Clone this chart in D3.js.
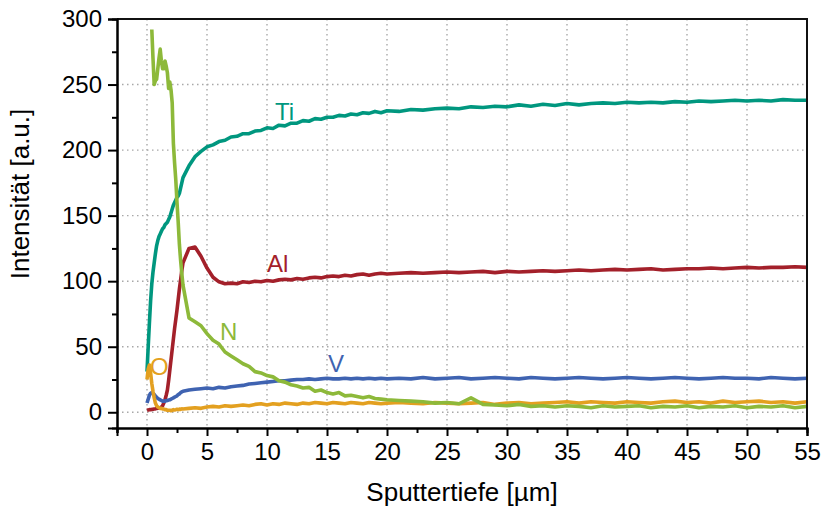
<!DOCTYPE html>
<html>
<head>
<meta charset="utf-8">
<script src="https://cdn.jsdelivr.net/npm/d3@7"></script>
<style>
  body { margin: 0; background: #fff; }
  svg text { font-family: "Liberation Sans", Arial, sans-serif; }
</style>
</head>
<body>
<div id="chart"></div>
<script>
// depth in µm (fine steps at the surface, coarser later)
const depth = [
  0, 0.1, 0.2, 0.3, 0.4, 0.5, 0.6, 0.7, 0.8, 0.9, 1.0, 1.1, 1.2, 1.3, 1.4, 1.5,
  1.6, 1.7, 1.8, 1.9, 2.0, 2.1, 2.2, 2.3, 2.4, 2.5, 2.6, 2.7, 2.8, 2.9, 3.0,
  3.5, 4, 4.5, 5, 5.5, 6, 6.5, 7, 7.5, 8, 8.5, 9, 9.5, 10, 10.5, 11, 11.5, 12,
  12.5, 13, 13.5, 14, 14.5, 15, 15.5, 16, 16.5, 17, 17.5, 18, 18.5, 19, 19.5, 20,
  21, 22, 23, 24, 25, 26, 27, 28, 29, 30, 31, 32, 33, 34, 35, 36, 37, 38,
  39, 40, 41, 42, 43, 44, 45, 46, 47, 48, 49, 50, 51, 52, 53, 54, 55
];

const ti = [
  31, 50, 68, 85, 98, 107, 114, 121, 127, 131, 134, 136, 138, 140, 141, 143,
  144, 145, 147, 149, 152, 155, 158, 160, 162, 164, 165, 167, 171, 175, 179,
  188, 195, 199, 202.5, 204, 206.5, 207.5, 210, 210.5, 212.5, 212.5, 214.5, 215, 217, 216.5, 219, 218.5, 220.5,
  220.5, 222.5, 222, 224, 223.5, 225, 225, 226.5, 226, 227.5, 227, 228.5, 228, 229.5, 228.5, 230,
  229.5, 231, 230.5, 231.5, 232, 231.5, 233, 232.5, 233.5, 233, 234.5, 233.5, 235, 234, 235.5, 234.5, 235.5, 236,
  235.5, 236.5, 236, 236.5, 236, 237, 236.5, 237.5, 237, 237.5, 238, 237.5, 238, 237.5, 238.5, 238, 238
];

const al = [
  1.5, 1.8, 2, 2, 2.2, 2.3, 2.5, 2.6, 2.8, 3, 3.2, 3.6, 4, 5, 7, 9.5,
  13, 17, 24, 32, 40, 48, 56, 64, 71, 78, 86, 94, 101, 108, 114,
  125, 126, 119, 110, 103, 99.5, 98, 98.5, 98, 99.5, 99, 100, 99.5, 100.5, 100, 101, 101.5, 101,
  102, 101.5, 102.5, 103, 102.5, 103.5, 104, 103.5, 104.5, 104, 105, 105.5, 104.5, 105.5, 106, 105.5,
  106, 106.5, 106, 106.5, 107, 106.5, 107, 107.5, 106.5, 107.5, 107, 107.5, 108, 107.5, 108, 108.5, 108, 108.5,
  109, 108.5, 109, 109.5, 108.5, 109, 109.5, 109.5, 110, 109.5, 110, 110.5, 110, 110.5, 110.5, 111, 110.5
];

const vv = [
  7, 10, 13, 14.5, 15, 14.5, 13.5, 12.5, 11.5, 10.5, 10, 9.5, 9, 8.5, 8.5, 8.5,
  8.7, 9, 9.3, 9.5, 10, 10.5, 11, 11.5, 12, 12.5, 13.5, 14, 15, 15.5, 16,
  17, 17.5, 18, 18.5, 18, 19, 18.5, 19.5, 20, 20.5, 21.5, 22, 22.5, 23, 23.5, 24, 24, 24.5,
  25, 25, 25.5, 25, 25.5, 26, 25.5, 25.5, 26, 25.5, 26, 25.5, 26, 25.5, 26, 25.5,
  26, 25.5, 26.5, 25.5, 26, 26.5, 25.5, 26, 26.5, 26, 25.5, 26.5, 26, 25.5, 26, 26.5, 26, 25.5,
  26, 26.5, 26, 25.5, 26, 26.5, 26, 25.5, 26, 26.5, 26, 26, 25.5, 26.5, 26, 25.5, 26
];

const ox = [
  25, 33, 36, 30, 22, 16, 11, 7, 5, 4, 3.5, 3, 3, 2.5, 2.5, 2,
  2, 1.5, 1.5, 1.5, 1.2, 1.5, 2, 1.8, 2, 2.3, 2, 2.4, 2.2, 2.6, 2.5,
  3, 3.5, 3, 4, 4.5, 4, 5, 4.5, 5, 5.5, 5, 6, 6.5, 5.5, 6.5, 6, 7, 6.5,
  6, 7, 6.5, 7.5, 7, 6.5, 7.5, 7, 6.5, 7.5, 7, 6.5, 7.5, 7, 6.5, 7,
  7.5, 7, 6.5, 7.5, 7, 6.5, 7, 7.5, 6, 7, 7.5, 6.5, 7, 7.5, 8, 7, 8, 7.5,
  7, 8, 7.5, 7, 8, 8.5, 7.5, 8, 7, 8.5, 7.5, 8, 8.5, 7.5, 8, 7, 8
];

const ni = [
  null, null, null, null, 292, 270, 250, 253, 254, 262, 270, 277, 268, 262, 262, 268,
  264, 259, 247, 252, 246, 236, 205, 190, 177, 160, 145, 128, 116, 106, 97,
  72, 69, 66, 60, 55, 52, 46, 43, 40, 37, 35, 31, 30, 28, 27, 24, 23, 21,
  20, 18.5, 19, 16, 17, 15, 14, 15, 12.5, 13, 12, 11, 12, 10.5, 10, 9.5,
  9, 8.5, 8, 7, 7.5, 6.5, 11, 6, 5.5, 5, 6, 4.5, 5, 4, 5, 4.5, 3.5, 5,
  4, 4.5, 5, 3.5, 4.5, 4, 5, 3.5, 4.5, 4, 5, 3.5, 4.5, 4, 5, 3.5, 4.5
];

const series = [
  { name: "Ti", values: ti, color: "#00977f", lx: 275, ly: 120 },
  { name: "Al", values: al, color: "#a3202a", lx: 267, ly: 272 },
  { name: "V", values: vv, color: "#3f63b1", lx: 328, ly: 372 },
  { name: "O", values: ox, color: "#e3a020", lx: 150, ly: 375 },
  { name: "N", values: ni, color: "#8db93a", lx: 220, ly: 340 }
];

const xMajor = d3.range(0, 56, 5);
const xMinor = d3.range(-2.5, 55, 5);
const yMajor = d3.range(0, 301, 50);
const yMinor = d3.range(25, 300, 50);

const W = 827, H = 512;
const plot = { left: 117, right: 807, top: 19, bottom: 428 };

const svg = d3.select("#chart").append("svg")
  .attr("width", W)
  .attr("height", H);

const x = d3.scaleLinear().domain([-2.5, 55]).range([plot.left, plot.right]);
const y = d3.scaleLinear().domain([-12, 300]).range([plot.bottom, plot.top]);

// grid lines
const grid = svg.append("g")
  .attr("stroke", "#a8a8a8")
  .attr("stroke-width", 1.4)
  .attr("stroke-dasharray", "1.5,3.5");
grid.selectAll("line.gx")
  .data(xMajor.filter(d => d < 55))
  .enter().append("line")
  .attr("x1", d => x(d)).attr("x2", d => x(d))
  .attr("y1", plot.top).attr("y2", plot.bottom);
grid.selectAll("line.gy")
  .data(yMajor.filter(d => d < 300))
  .enter().append("line")
  .attr("x1", plot.left).attr("x2", plot.right)
  .attr("y1", d => y(d)).attr("y2", d => y(d));

// curves
const line = d3.line()
  .defined(d => d[1] != null)
  .x(d => x(d[0]))
  .y(d => y(d[1]));

series.forEach(s => {
  svg.append("path")
    .datum(depth.map((d, i) => [d, s.values[i]]))
    .attr("fill", "none")
    .attr("stroke", s.color)
    .attr("stroke-width", 3.6)
    .attr("stroke-linejoin", "round")
    .attr("d", line);
});

// frame (top, right)
svg.append("path")
  .attr("d", `M${plot.left},${plot.top}H${plot.right}V${plot.bottom}`)
  .attr("fill", "none")
  .attr("stroke", "#111")
  .attr("stroke-width", 2);

// axes
const gx = svg.append("g").attr("transform", `translate(0,${plot.bottom})`);
gx.call(d3.axisBottom(x).tickValues(xMajor).tickSize(8).tickPadding(7));
const gxm = svg.append("g").attr("transform", `translate(0,${plot.bottom})`);
gxm.call(d3.axisBottom(x).tickValues(xMinor).tickSize(5).tickFormat(""));

const gy = svg.append("g").attr("transform", `translate(${plot.left},0)`);
gy.call(d3.axisLeft(y).tickValues(yMajor).tickSize(9).tickPadding(6));
const gym = svg.append("g").attr("transform", `translate(${plot.left},0)`);
gym.call(d3.axisLeft(y).tickValues(yMinor).tickSize(5).tickFormat(""));

[gx, gxm, gy, gym].forEach(g => {
  g.selectAll(".domain").attr("stroke", "#000").attr("stroke-width", 2);
  g.selectAll(".tick line").attr("stroke", "#000").attr("stroke-width", 2);
  g.selectAll(".tick text")
    .attr("fill", "#000")
    .style("font-size", "24px")
    .style("font-family", "'Liberation Sans', Arial, sans-serif");
});

// axis titles
svg.append("text")
  .attr("x", (plot.left + plot.right) / 2)
  .attr("y", 501)
  .attr("text-anchor", "middle")
  .style("font-size", "26px")
  .text("Sputtertiefe [µm]");

svg.append("text")
  .attr("transform", "translate(29,194) rotate(-90)")
  .attr("text-anchor", "middle")
  .style("font-size", "26px")
  .text("Intensität [a.u.]");

// element labels
svg.selectAll("text.lbl")
  .data(series)
  .enter().append("text")
  .attr("class", "lbl")
  .attr("x", d => d.lx)
  .attr("y", d => d.ly)
  .attr("fill", d => d.color)
  .style("font-size", "24px")
  .text(d => d.name);
</script>
</body>
</html>
